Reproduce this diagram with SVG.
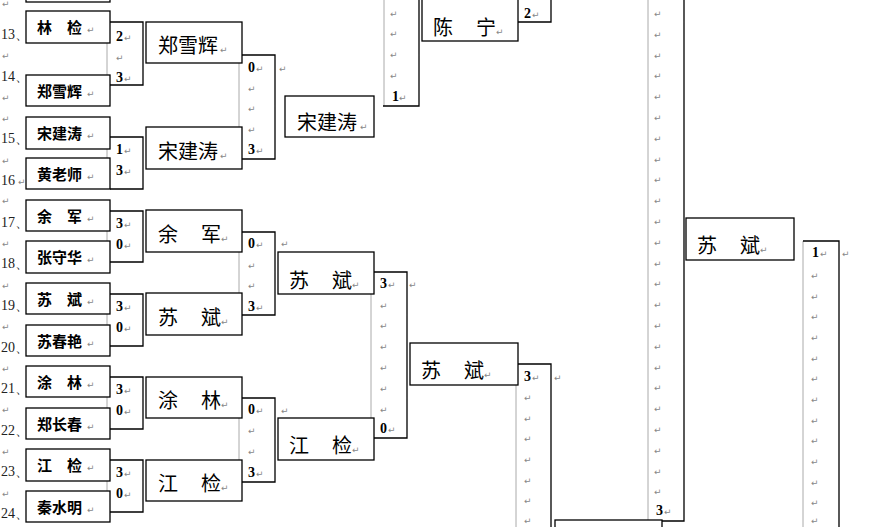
<svg xmlns="http://www.w3.org/2000/svg" width="873" height="527" viewBox="0 0 873 527">
<style>
.b{fill:#fff;stroke:#000;stroke-width:1.3}
.k{fill:none;stroke:#000;stroke-width:1.3}
.g{fill:none;stroke:#aaa;stroke-width:1}
.n1{font-family:"Noto Sans CJK SC",sans-serif;font-weight:bold;font-size:15px;fill:#000}
.n2{font-family:"Noto Sans CJK SC",serif;font-size:20px;fill:#000}
.s{font-family:"Liberation Serif",serif;font-weight:bold;font-size:14px;fill:#000}
.r{font-family:"Liberation Serif",serif;font-size:14px;fill:#222}
.m{font-family:"DejaVu Sans",sans-serif;font-size:9px;fill:#888}
</style>
<rect width="873" height="527" fill="#fff"/>
<g id="connectors">
<path class="g" d="M107 43V75M107 149V158M107 231V241M107 314V325M107 397V408M107 481V491M239 63V127M239 252V293M239 418V460M371 294V418M384 -2V106M516 385V530M648 -2V521M803 241V530"/>
<path class="k" d="M110 22H143V85H110M110 137H143V189H110M110 211H143V262H110M110 294H143V346H110M110 377H143V429H110M110 460H143V512H110M242 55H275V159H242M242 232H275V315H242M242 398H275V482H242M374 272H407V438H374M383 106H419V-2M518 22H551V-2M518 364H551V530M647 521H684V-2M803 241H839V530"/>
<rect class="b" x="555" y="520" width="107" height="12"/>
</g>
<g id="r1">
<rect class="b" x="26" y="-10" width="84" height="12"/>
<rect class="b" x="26" y="11" width="84" height="32"/><text class="n1" x="37" y="33">林　检</text><text class="m" x="87" y="33">↵</text>
<rect class="b" x="26" y="75" width="84" height="31"/><text class="n1" x="37" y="97">郑雪辉</text><text class="m" x="87" y="97">↵</text>
<rect class="b" x="26" y="117" width="84" height="32"/><text class="n1" x="37" y="139">宋建涛</text><text class="m" x="87" y="139">↵</text>
<rect class="b" x="26" y="158" width="84" height="31"/><text class="n1" x="37" y="180">黄老师</text><text class="m" x="87" y="180">↵</text>
<rect class="b" x="26" y="200" width="84" height="31"/><text class="n1" x="37" y="222">余　军</text><text class="m" x="87" y="222">↵</text>
<rect class="b" x="26" y="241" width="84" height="32"/><text class="n1" x="37" y="263">张守华</text><text class="m" x="87" y="263">↵</text>
<rect class="b" x="26" y="283" width="84" height="31"/><text class="n1" x="37" y="305">苏　斌</text><text class="m" x="87" y="305">↵</text>
<rect class="b" x="26" y="325" width="84" height="31"/><text class="n1" x="37" y="347">苏春艳</text><text class="m" x="87" y="347">↵</text>
<rect class="b" x="26" y="366" width="84" height="31"/><text class="n1" x="37" y="388">涂　林</text><text class="m" x="87" y="388">↵</text>
<rect class="b" x="26" y="408" width="84" height="31"/><text class="n1" x="37" y="430">郑长春</text><text class="m" x="87" y="430">↵</text>
<rect class="b" x="26" y="449" width="84" height="32"/><text class="n1" x="37" y="471">江　检</text><text class="m" x="87" y="471">↵</text>
<rect class="b" x="26" y="491" width="84" height="31"/><text class="n1" x="37" y="513">秦水明</text><text class="m" x="87" y="513">↵</text>
</g>
<g id="rownums">
<text class="r" x="1" y="39">13、</text><text class="r" x="1" y="81">14、</text><text class="r" x="1" y="143">15、</text><text class="r" x="1" y="185">16</text>
<text class="r" x="1" y="227">17、</text><text class="r" x="1" y="268">18、</text><text class="r" x="1" y="310">19、</text><text class="r" x="1" y="352">20、</text>
<text class="r" x="1" y="393">21、</text><text class="r" x="1" y="435">22、</text><text class="r" x="1" y="476">23、</text><text class="r" x="1" y="518">24、</text>
<text class="m" x="2" y="7">↵</text><text class="m" x="2" y="59">↵</text><text class="m" x="2" y="101">↵</text><text class="m" x="2" y="122">↵</text><text class="m" x="18" y="185">↵</text><text class="m" x="2" y="164">↵</text><text class="m" x="2" y="204">↵</text><text class="m" x="2" y="247">↵</text><text class="m" x="2" y="289">↵</text><text class="m" x="2" y="330">↵</text><text class="m" x="2" y="372">↵</text><text class="m" x="2" y="413">↵</text><text class="m" x="2" y="455">↵</text><text class="m" x="2" y="497">↵</text>
</g>
<g id="scores1">
<text class="s" x="116" y="41">2</text><text class="m" x="124" y="41">↵</text><text class="m" x="116" y="61">↵</text><text class="s" x="116" y="82">3</text><text class="m" x="124" y="82">↵</text>
<text class="s" x="116" y="154">1</text><text class="m" x="124" y="154">↵</text><text class="s" x="116" y="175">3</text><text class="m" x="124" y="175">↵</text>
<text class="s" x="116" y="228">3</text><text class="m" x="124" y="228">↵</text><text class="s" x="116" y="249">0</text><text class="m" x="124" y="249">↵</text>
<text class="s" x="116" y="311">3</text><text class="m" x="124" y="311">↵</text><text class="s" x="116" y="332">0</text><text class="m" x="124" y="332">↵</text>
<text class="s" x="116" y="394">3</text><text class="m" x="124" y="394">↵</text><text class="s" x="116" y="415">0</text><text class="m" x="124" y="415">↵</text>
<text class="s" x="116" y="477">3</text><text class="m" x="124" y="477">↵</text><text class="s" x="116" y="498">0</text><text class="m" x="124" y="498">↵</text>
</g>
<g id="r2">
<rect class="b" x="146" y="22" width="96" height="41"/><text class="n2" x="158" y="53">郑雪辉</text><text class="m" x="220" y="53">↵</text>
<rect class="b" x="146" y="127" width="96" height="42"/><text class="n2" x="158" y="159">宋建涛</text><text class="m" x="220" y="159">↵</text>
<rect class="b" x="146" y="210" width="96" height="42"/><text class="n2" x="158" y="242">余</text><text class="n2" x="201" y="242">军</text><text class="m" x="221" y="242">↵</text>
<rect class="b" x="146" y="293" width="96" height="42"/><text class="n2" x="158" y="325">苏</text><text class="n2" x="201" y="325">斌</text><text class="m" x="221" y="325">↵</text>
<rect class="b" x="146" y="377" width="96" height="41"/><text class="n2" x="158" y="408">涂</text><text class="n2" x="201" y="408">林</text><text class="m" x="221" y="408">↵</text>
<rect class="b" x="146" y="460" width="96" height="41"/><text class="n2" x="158" y="491">江</text><text class="n2" x="201" y="491">检</text><text class="m" x="221" y="491">↵</text>
</g>
<g id="scores2">
<text class="s" x="248" y="72">0</text><text class="m" x="256" y="72">↵</text><text class="m" x="248" y="92">↵</text><text class="m" x="248" y="112">↵</text><text class="m" x="248" y="133">↵</text><text class="s" x="248" y="154">3</text><text class="m" x="256" y="154">↵</text><text class="m" x="279" y="72">↵</text>
<text class="s" x="248" y="248">0</text><text class="m" x="256" y="248">↵</text><text class="m" x="248" y="269">↵</text><text class="m" x="248" y="289">↵</text><text class="s" x="248" y="311">3</text><text class="m" x="256" y="311">↵</text><text class="m" x="281" y="247">↵</text>
<text class="s" x="248" y="414">0</text><text class="m" x="256" y="414">↵</text><text class="m" x="248" y="434">↵</text><text class="m" x="248" y="455">↵</text><text class="s" x="248" y="477">3</text><text class="m" x="256" y="477">↵</text><text class="m" x="281" y="414">↵</text>
</g>
<g id="r3">
<rect class="b" x="285" y="96" width="89" height="41"/><text class="n2" x="297" y="130">宋建涛</text><text class="m" x="360" y="130">↵</text>
<rect class="b" x="278" y="252" width="96" height="42"/><text class="n2" x="289" y="288">苏</text><text class="n2" x="332" y="288">斌</text><text class="m" x="352" y="288">↵</text>
<rect class="b" x="278" y="418" width="96" height="42"/><text class="n2" x="289" y="453">江</text><text class="n2" x="332" y="453">检</text><text class="m" x="352" y="453">↵</text>
</g>
<g id="scores3">
<text class="s" x="380" y="288">3</text><text class="m" x="388" y="288">↵</text><text class="m" x="409" y="288">↵</text>
<text class="m" x="380" y="309">↵</text><text class="m" x="380" y="329">↵</text><text class="m" x="380" y="350">↵</text><text class="m" x="380" y="371">↵</text><text class="m" x="380" y="392">↵</text><text class="m" x="380" y="413">↵</text>
<text class="s" x="380" y="433">0</text><text class="m" x="388" y="433">↵</text>
<text class="m" x="390" y="17">↵</text><text class="m" x="390" y="37">↵</text><text class="m" x="390" y="58">↵</text><text class="m" x="390" y="79">↵</text><text class="s" x="392" y="101">1</text><text class="m" x="399" y="101">↵</text>
</g>
<g id="r4">
<rect class="b" x="422" y="-2" width="96" height="43"/><text class="n2" x="433" y="35">陈</text><text class="n2" x="476" y="35">宁</text><text class="m" x="496" y="35">↵</text>
<rect class="b" x="410" y="343" width="108" height="42"/><text class="n2" x="421" y="378">苏</text><text class="n2" x="464" y="378">斌</text><text class="m" x="484" y="378">↵</text>
</g>
<g id="scores4">
<text class="s" x="524" y="18">2</text><text class="m" x="532" y="18">↵</text>
<text class="s" x="524" y="381">3</text><text class="m" x="532" y="381">↵</text><text class="m" x="554" y="381">↵</text>
<text class="m" x="524" y="401">↵</text><text class="m" x="524" y="422">↵</text><text class="m" x="524" y="442">↵</text><text class="m" x="524" y="463">↵</text><text class="m" x="524" y="484">↵</text><text class="m" x="524" y="504">↵</text><text class="m" x="524" y="524">↵</text>
</g>
<g id="scores5">
<text class="m" x="654" y="17">↵</text><text class="m" x="654" y="38">↵</text><text class="m" x="654" y="59">↵</text><text class="m" x="654" y="79">↵</text><text class="m" x="654" y="100">↵</text><text class="m" x="654" y="121">↵</text><text class="m" x="654" y="142">↵</text><text class="m" x="654" y="163">↵</text><text class="m" x="654" y="183">↵</text><text class="m" x="654" y="204">↵</text><text class="m" x="654" y="225">↵</text><text class="m" x="654" y="246">↵</text><text class="m" x="654" y="267">↵</text><text class="m" x="654" y="287">↵</text><text class="m" x="654" y="308">↵</text><text class="m" x="654" y="329">↵</text><text class="m" x="654" y="350">↵</text><text class="m" x="654" y="371">↵</text><text class="m" x="654" y="391">↵</text><text class="m" x="654" y="412">↵</text><text class="m" x="654" y="433">↵</text><text class="m" x="654" y="454">↵</text><text class="m" x="654" y="475">↵</text><text class="m" x="654" y="495">↵</text>
<text class="s" x="656" y="515">3</text><text class="m" x="664" y="515">↵</text>
</g>
<g id="final">
<rect class="b" x="686" y="218" width="108" height="42"/><text class="n2" x="697" y="253">苏</text><text class="n2" x="740" y="253">斌</text><text class="m" x="760" y="253">↵</text>
</g>
<g id="finalscore">
<text class="s" x="812" y="257">1</text><text class="m" x="820" y="257">↵</text><text class="m" x="842" y="257">↵</text>
<text class="m" x="811" y="279">↵</text><text class="m" x="811" y="300">↵</text><text class="m" x="811" y="320">↵</text><text class="m" x="811" y="341">↵</text><text class="m" x="811" y="362">↵</text><text class="m" x="811" y="382">↵</text><text class="m" x="811" y="403">↵</text><text class="m" x="811" y="424">↵</text><text class="m" x="811" y="444">↵</text><text class="m" x="811" y="465">↵</text><text class="m" x="811" y="486">↵</text><text class="m" x="811" y="506">↵</text><text class="m" x="811" y="524">↵</text>
</g>
</svg>
